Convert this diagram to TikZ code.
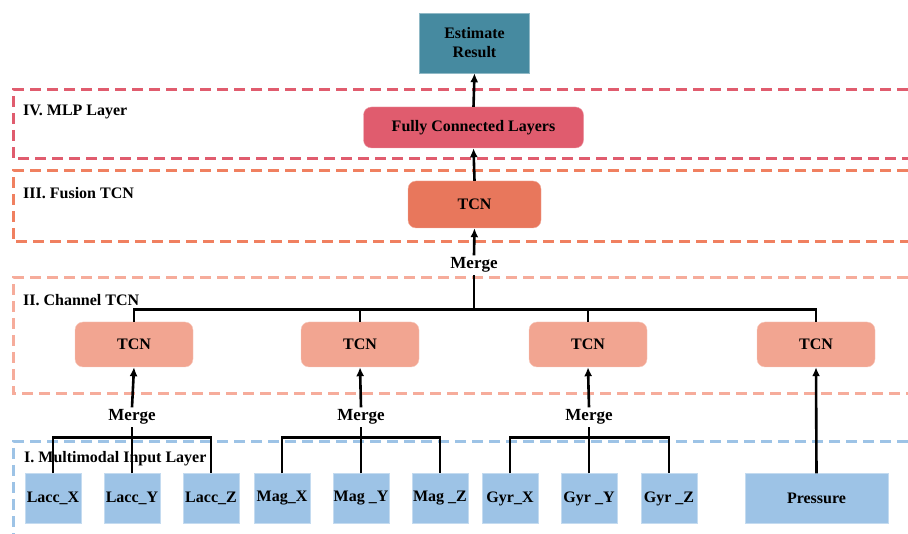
\documentclass[tikz,border=0pt]{standalone}
\usepackage{fontspec}
\setmainfont{Liberation Serif}
\usetikzlibrary{arrows.meta}

\definecolor{teal1}{RGB}{70,138,160}
\definecolor{red1}{RGB}{224,92,110}
\definecolor{orange1}{RGB}{232,119,92}
\definecolor{salmon1}{RGB}{242,165,145}
\definecolor{blue1}{RGB}{157,195,230}
\definecolor{orange2}{RGB}{240,128,96}
\definecolor{salmon2}{RGB}{246,172,155}

\tikzstyle{block} = [rectangle, inner sep=0pt, text centered, font=\bfseries\fontsize{16}{19}\selectfont]
\tikzstyle{tcn} = [block, rounded corners=8pt, draw=salmon1!60!white, fill=salmon1, minimum width=118pt, minimum height=45pt]
\tikzstyle{input} = [block, draw=blue1!60!white, fill=blue1, minimum width=56pt, minimum height=50pt]
\tikzstyle{merge} = [inner sep=2pt, font=\bfseries\fontsize{17}{19}\selectfont]
\tikzstyle{layertext} = [anchor=west, inner sep=0pt, font=\bfseries\fontsize{16}{19}\selectfont]
\tikzstyle{layer} = [line width=3pt, dash pattern=on 11pt off 6pt]
\tikzstyle{link} = [draw, line width=2.6pt]
\tikzstyle{arrow} = [draw, line width=2.6pt, -{Latex[length=9pt,width=8pt]}]

\begin{document}
\begin{tikzpicture}[x=1pt, y=-1pt]
	\useasboundingbox (0,0) rectangle (908,534);

	% layer frames
	\draw [layer, red1] (908,90) -| (13,159) -- (908,159);
	\draw [layer, orange2] (908,171) -| (13,242) -- (908,242);
	\draw [layer, salmon2] (908,278) -| (13,394) -- (908,394);
	\draw [layer, blue1] (908,442) -| (13,534);
	\node [layertext] (mlptext) at (23,112) {IV. MLP Layer};
	\node [layertext] (fusiontext) at (23,193) {III. Fusion TCN};
	\node [layertext] (channeltext) at (23,300) {II. Channel TCN};
	\node [layertext] (inputtext) at (24,459) {I. Multimodal Input Layer};

	% top
	\node [block, draw=teal1!60!white, fill=teal1, minimum width=110pt, minimum height=60pt, align=center] (est) at (474.5,43) {Estimate\\Result};
	\node [block, rounded corners=8pt, draw=red1!60!white, fill=red1, minimum width=220pt, minimum height=41pt] (fcl) at (473.5,127.5) {Fully Connected Layers};
	\node [block, rounded corners=8pt, draw=orange1!60!white, fill=orange1, minimum width=133pt, minimum height=47pt] (fusion) at (474.5,204.5) {TCN};
	\node [merge] (merge0) at (474,265) {Merge};

	% channel TCNs
	\node [tcn] (tcn1) at (134,344.5) {TCN};
	\node [tcn] (tcn2) at (360,344.5) {TCN};
	\node [tcn] (tcn3) at (588,344.5) {TCN};
	\node [tcn] (tcn4) at (816,344.5) {TCN};
	\coordinate (hub) at (474,310);

	\node [merge] (merge1) at (132,417) {Merge};
	\node [merge] (merge2) at (361,417) {Merge};
	\node [merge] (merge3) at (589,417) {Merge};

	% inputs
	\node [input] (laccx) at (53,498.5) {Lacc\_X};
	\node [input] (laccy) at (132,498.5) {Lacc\_Y};
	\node [input] (laccz) at (211,498.5) {Lacc\_Z};
	\node [input] (magx) at (282,498.5) {Mag\_X};
	\node [input] (magy) at (361,498.5) {Mag \_Y};
	\node [input] (magz) at (440,498.5) {Mag \_Z};
	\node [input] (gyrx) at (510,498.5) {Gyr\_X};
	\node [input] (gyry) at (589,498.5) {Gyr \_Y};
	\node [input] (gyrz) at (669,498.5) {Gyr \_Z};
	\node [input, minimum width=143pt] (pressure) at (816.5,498.5) {Pressure};

	% connections
	\draw [link] (laccx.north) -- ++(0,-36) -| (laccz.north);
	\draw [link] (magx.north) -- ++(0,-36) -| (magz.north);
	\draw [link] (gyrx.north) -- ++(0,-36) -| (gyrz.north);
	\draw [link] (laccy.north) -- (merge1.south);
	\draw [link] (magy.north) -- (merge2.south);
	\draw [link] (gyry.north) -- (merge3.south);
	\draw [arrow] (merge1.north) -- (tcn1.south);
	\draw [arrow] (merge2.north) -- (tcn2.south);
	\draw [arrow] (merge3.north) -- (tcn3.south);
	\draw [arrow] (pressure.north) -- (tcn4.south);

	\draw [link] (tcn1.north) -- ++(0,-12) -| (tcn4.north);
	\draw [link] (tcn2.north) -- ++(0,-12);
	\draw [link] (tcn3.north) -- ++(0,-12);
	\draw [link] (hub) -- (merge0.south);
	\draw [arrow] (merge0.north) -- (fusion.south);
	\draw [arrow] (fusion.north) -- (fcl.south);
	\draw [arrow] (fcl.north) -- (est.south);
\end{tikzpicture}
\end{document}
